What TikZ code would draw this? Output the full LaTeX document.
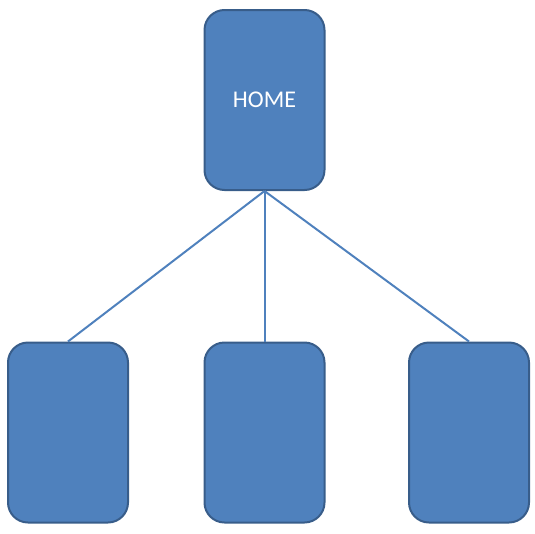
\documentclass[tikz,border=0pt]{standalone}
\usepackage{fontspec}
\setmainfont{Carlito}
\usetikzlibrary{calc}
\definecolor{boxfill}{HTML}{4F81BD}
\definecolor{boxline}{HTML}{385D8A}

\begin{document}
\begin{tikzpicture}[x=1pt, y=-1pt,
    page/.style={draw=boxline, fill=boxfill, line width=2pt, rounded corners=20pt,
                 minimum width=120pt, minimum height=180pt, inner sep=0pt,
                 text=white, font=\fontsize{24}{28}\selectfont}]
      \useasboundingbox (0,0) rectangle (535,533);

      \node [page] (home) at (264.5, 100) {HOME};
      \node [page] (left) at (68, 432.5) {};
      \node [page] (mid) at (264.5, 432.5) {};
      \node [page] (right) at (469, 432.5) {};

      \foreach \n in {left, mid, right}
               {
                 \draw [boxfill, line width=2pt] (home.south) -- (\n.north);
               }
    \end{tikzpicture}
\end{document}
